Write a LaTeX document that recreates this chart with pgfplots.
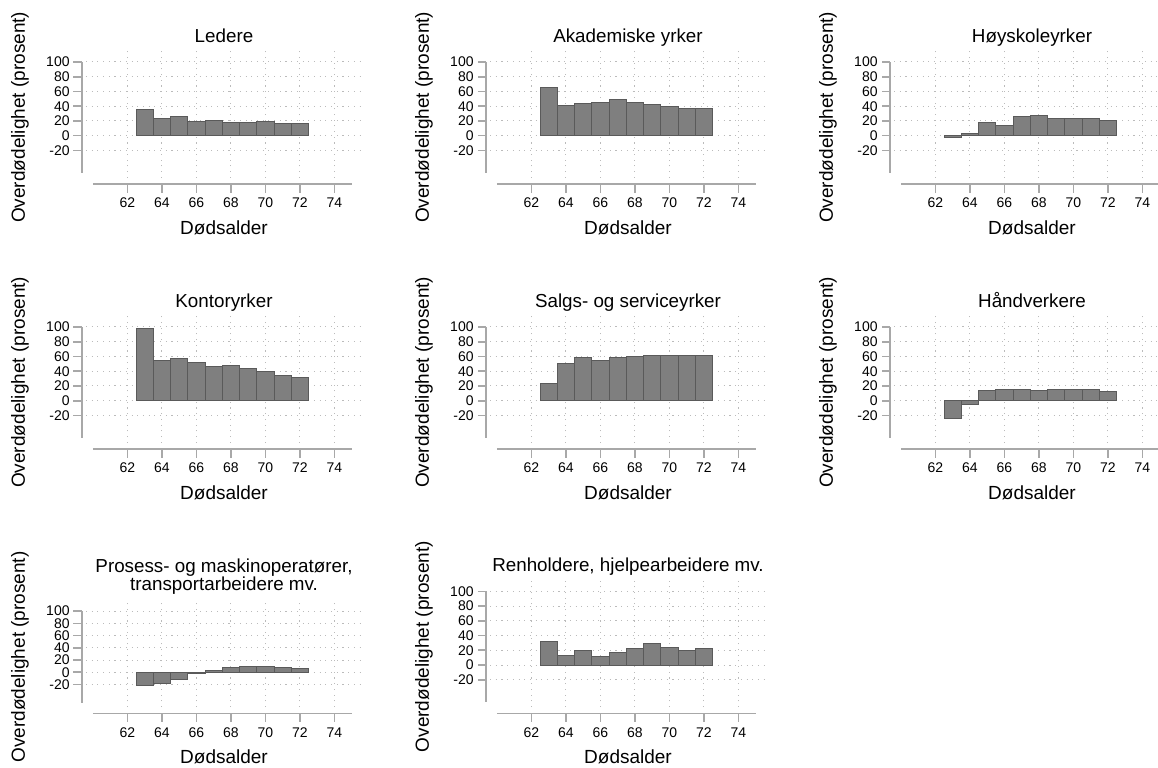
\documentclass[border=0pt]{standalone}
\usepackage{pgfplots}
\pgfplotsset{compat=1.18}
\usepackage{fontspec}
\setmainfont{Liberation Sans}
\definecolor{axgray}{HTML}{A8A8A8}
\definecolor{gridgray}{HTML}{BBBBBB}
\definecolor{barfill}{HTML}{7F7F7F}
\definecolor{barline}{HTML}{5A5A5A}
\newcommand{\tickfont}{\fontsize{7pt}{7.5pt}\selectfont}
\newcommand{\labfont}{\fontsize{9.5pt}{10pt}\selectfont}
\newcommand{\titfont}{\fontsize{9.4pt}{8.85pt}\selectfont}
\pgfplotsset{
  panel/.style={
    scale only axis, width=138pt, height=63.75pt,
    anchor=south west, clip=false,
    xmin=59.6, xmax=75.6, ymin=-57, ymax=116,
    axis line style={draw=none},
    major tick length=0pt,
    xtick={62,64,66,68,70,72,74}, xticklabels={62,64,66,68,70,72,74},
    ytick={-20,0,20,40,60,80,100}, yticklabels={-20,0,20,40,60,80,100},
    grid=major,
    major grid style={gridgray, line width=0.5pt, dash pattern=on 0.55pt off 2.3pt},
    xticklabel style={font=\tickfont, inner sep=0pt, anchor=north, yshift=-10pt},
    yticklabel style={font=\tickfont, inner sep=0pt, anchor=east, xshift=-8pt},
    xlabel={Dødsalder}, ylabel={Overdødelighet (prosent)},
    every axis x label/.style={at={([yshift=-25pt]axis description cs:0.5,0)}, anchor=center, font=\labfont},
    every axis y label/.style={at={([xshift=-33pt]axis description cs:0,0.474)}, anchor=center, rotate=90, font=\labfont},
    every axis title/.style={at={([yshift=4pt]axis description cs:0.5,1)}, anchor=base, inner sep=0pt, font=\titfont, align=center},
    ybar, bar width=1,
  },
  bars/.style={fill=barfill, draw=barline, line width=0.5pt, bar shift=0pt},
}
\newcommand{\axlines}{%
  \draw[axgray, line width=0.8pt] ([yshift=-3.15pt]axis cs:60,-57) -- ([yshift=-3.15pt]axis cs:75,-57);
  \pgfplotsinvokeforeach{62,64,66,68,70,72,74}{\draw[axgray, line width=0.8pt] ([yshift=-3.15pt]axis cs:##1,-57) -- ([yshift=-7.5pt]axis cs:##1,-57);}
  \draw[axgray, line width=0.8pt] ([xshift=-2pt]axis cs:59.6,-50) -- ([xshift=-2pt]axis cs:59.6,100);
  \pgfplotsinvokeforeach{-20,0,20,40,60,80,100}{\draw[axgray, line width=0.8pt] ([xshift=-2pt]axis cs:59.6,##1) -- ([xshift=-6.25pt]axis cs:59.6,##1);}
}
\begin{document}
\begin{tikzpicture}
\path[use as bounding box] (0,0) rectangle (579pt,-383.5pt);
% Row 1
\begin{axis}[panel, at={(43pt,-88.85pt)}, title={Ledere}]
\addplot[bars] coordinates {(63,35.5) (64,23.4) (65,25.7) (66,18.9) (67,20.3) (68,17.6) (69,18.5) (70,19.8) (71,16.2) (72,16.7)};
\axlines
\end{axis}
\begin{axis}[panel, at={(245pt,-88.85pt)}, title={Akademiske yrker}]
\addplot[bars] coordinates {(63,65.3) (64,41.4) (65,43.7) (66,44.6) (67,49.5) (68,45.5) (69,42.3) (70,39.2) (71,36.5) (72,36.9)};
\axlines
\end{axis}
\begin{axis}[panel, at={(447pt,-88.85pt)}, title={Høyskoleyrker}]
\addplot[bars] coordinates {(63,-2.7) (64,2.7) (65,17.6) (66,14) (67,26.6) (68,27.5) (69,23.4) (70,23.4) (71,23.9) (72,20.3)};
\axlines
\end{axis}
% Row 2
\begin{axis}[panel, at={(43pt,-221.35pt)}, title={Kontoryrker}]
\addplot[bars] coordinates {(63,98) (64,54.5) (65,57.5) (66,51.5) (67,46.5) (68,48) (69,43.5) (70,39) (71,34) (72,31.5)};
\axlines
\end{axis}
\begin{axis}[panel, at={(245pt,-221.35pt)}, title={Salgs- og serviceyrker}]
\addplot[bars] coordinates {(63,24) (64,51) (65,58) (66,55) (67,59) (68,60) (69,62) (70,61) (71,61) (72,62)};
\axlines
\end{axis}
\begin{axis}[panel, at={(447pt,-221.35pt)}, title={Håndverkere}]
\addplot[bars] coordinates {(63,-24.4) (64,-5.4) (65,14) (66,15.4) (67,15) (68,14) (69,15.4) (70,15.8) (71,15.4) (72,13.1)};
\axlines
\end{axis}
% Row 3
\begin{axis}[panel, at={(43pt,-353.5pt)}, height=52.8pt,
  title={Prosess- og maskinoperatører,\\transportarbeidere mv.},
  every axis title/.append style={anchor=south, at={([yshift=3.25pt]axis description cs:0.5,1)}}]
\addplot[bars] coordinates {(63,-21.9) (64,-18) (65,-12.6) (66,-2.2) (67,2.2) (68,7.1) (69,9.3) (70,9.3) (71,8.2) (72,6)};
\axlines
\end{axis}
\begin{axis}[panel, at={(245pt,-353.5pt)}, title={Renholdere, hjelpearbeidere mv.}]
\addplot[bars] coordinates {(63,32) (64,13) (65,20) (66,12.2) (67,16.7) (68,22.6) (69,28.5) (70,24) (71,20) (72,23)};
\axlines
\end{axis}
\end{tikzpicture}
\end{document}
